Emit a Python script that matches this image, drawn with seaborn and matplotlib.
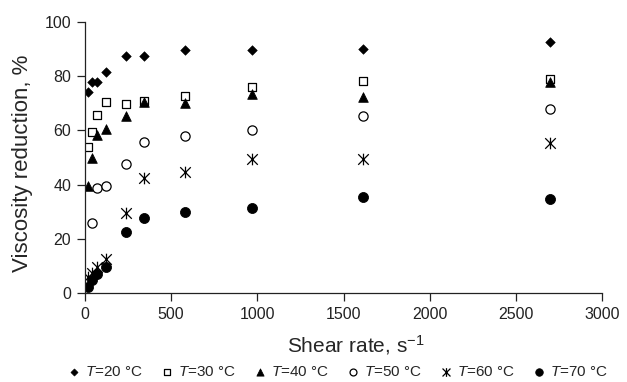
import matplotlib
matplotlib.use("Agg")
import matplotlib.pyplot as plt
from matplotlib.path import Path
import seaborn as sns
import pandas as pd

# Shear rates (s^-1) and viscosity reduction (%) per test temperature
shear = [20, 40, 70, 120, 240, 340, 580, 970, 1615, 2700]
t20 = [74.0, 77.9, 77.9, 81.6, 87.3, 87.3, 89.4, 89.7, 89.9, 92.7]
t30 = [53.7, 59.3, 65.7, 70.4, 69.8, 70.8, 72.6, 76.1, 78.2, 79.0]
t40 = [39.6, 50.0, 58.3, 60.5, 65.4, 70.5, 70.2, 73.5, 72.4, 77.7]
t50 = [None, 25.8, 38.9, 39.6, 47.7, 55.8, 58.1, 60.0, 65.3, 67.8]
t60 = [6.0, 7.5, 9.6, 12.6, 29.4, 42.5, 44.6, 49.4, 49.4, 55.2]
t70 = [2.5, 5.0, 7.0, 9.8, 22.4, 27.6, 29.8, 31.5, 35.6, 34.7]
labels = ["$T$=20 °C", "$T$=30 °C", "$T$=40 °C", "$T$=50 °C", "$T$=60 °C", "$T$=70 °C"]

sns.set_theme(style="ticks")
plt.rcParams["font.family"] = ["Liberation Sans", "DejaVu Sans"]
plt.rcParams["mathtext.fontset"] = "custom"
plt.rcParams["mathtext.rm"] = "Liberation Sans"
plt.rcParams["mathtext.it"] = "Liberation Sans:italic"

# asterisk marker: an X crossed by a vertical bar
star = Path(
    [(-1, -1), (1, 1), (-1, 1), (1, -1), (0, -1.1), (0, 1.1)],
    [Path.MOVETO, Path.LINETO, Path.MOVETO, Path.LINETO, Path.MOVETO, Path.LINETO],
)

fig = plt.figure(figsize=(6.27, 3.82), dpi=100)
ax = fig.add_axes([85 / 627, 1 - 293.3 / 382, 517 / 627, (293.3 - 21.7) / 382])

styles = [
    dict(marker="D", s=24, color="black", edgecolor="black"),
    dict(marker="s", s=40, facecolor="white", edgecolor="black", linewidth=0.9),
    dict(marker="^", s=48, color="black", edgecolor="black"),
    dict(marker="o", s=44, facecolor="white", edgecolor="black", linewidth=0.9),
    dict(marker=star, s=70, color="black", edgecolor="black", linewidth=0.9),
    dict(marker="o", s=52, color="black", edgecolor="black"),
]

series = [t20, t30, t40, t50, t60, t70]
for vals, lab, st in zip(series, labels, styles):
    df = pd.DataFrame({"shear": shear, "vr": vals}).dropna()
    sns.scatterplot(data=df, x="shear", y="vr", ax=ax, label=lab, **st)

ax.set_xlim(0, 3000)
ax.set_ylim(0, 100)
ax.set_xticks(range(0, 3001, 500))
ax.set_yticks(range(0, 101, 20))
sns.despine(ax=ax)
for sp in ("left", "bottom"):
    ax.spines[sp].set_linewidth(0.9)
    ax.spines[sp].set_color("#222222")
ax.tick_params(axis="both", direction="out", length=6, width=0.9,
               colors="#222222", labelsize=11.5, pad=4)
ax.set_ylabel("Viscosity reduction, %", fontsize=16)
ax.set_xlabel("Shear rate, s$^{-1}$", fontsize=15)
ax.yaxis.set_label_coords((33 - 85) / 517, 0.48)
ax.xaxis.set_label_coords((356 - 85) / 517, (293.3 - 333) / 271.6)

handles, labs = ax.get_legend_handles_labels()
ax.get_legend().remove()
leg = fig.legend(handles, labs, loc="center", ncol=6, frameon=False,
                 bbox_to_anchor=(338 / 627, 1 - 372 / 382), fontsize=11,
                 handlelength=0.8, handletextpad=0.3, columnspacing=1.2,
                 markerscale=0.75, borderaxespad=0)

fig.savefig("out.png", dpi=100)
